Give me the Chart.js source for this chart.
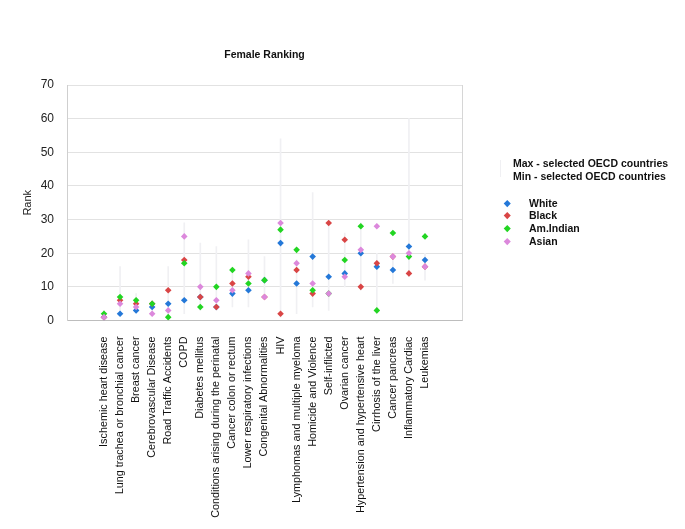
<!DOCTYPE html>
<html>
<head>
<meta charset="utf-8">
<script src="https://cdn.jsdelivr.net/npm/chart.js@4.4.1/dist/chart.umd.min.js"></script>
<style>
  body { margin: 0; background: #fff; font-family: "Liberation Sans", Arial, sans-serif; }
  #wrap { position: relative; width: 685px; height: 529px; }
  #legend { position: absolute; left: 0; top: 0; }
  .lg { position: absolute; font-size: 10.5px; font-weight: bold; color: #111; white-space: nowrap; line-height: 12px; }
  .mk { position: absolute; width: 4.5px; height: 4.5px; transform: rotate(45deg); }
</style>
</head>
<body>
<div id="wrap">
  <canvas id="chart" width="685" height="529"></canvas>
  <div id="legend"></div>
</div>
<script>
// categories along the x axis
const causes = [
  'Ischemic heart disease', 'Lung trachea or bronchial cancer', 'Breast cancer',
  'Cerebrovascular Disease', 'Road Traffic Accidents', 'COPD', 'Diabetes mellitus',
  'Conditions arising during the perinatal', 'Cancer colon or rectum',
  'Lower respiratory infections', 'Congenital Abnormalities', 'HIV',
  'Lymphomas and multiple myeloma', 'Homicide and Violence', 'Self-inflicted',
  'Ovarian cancer', 'Hypertension and hypertensive heart', 'Cirrhosis of the liver',
  'Cancer pancreas', 'Inflammatory Cardiac', 'Leukemias'
];

// rank per group
const white    = [1, 2, 3, 4, 5, 6, 7, 4, 8, 9, 12, 23, 11, 19, 13, 14, 20, 16, 15, 22, 18];
const black    = [1, 6, 5, 5, 9, 18, 7, 4, 11, 13, 7, 2, 15, 8, 29, 24, 10, 17, 19, 14, 16];
const amIndian = [2, 7, 6, 5, 1, 17, 4, 10, 15, 11, 12, 27, 21, 9, 8, 18, 28, 3, 26, 19, 25];
const asian    = [1, 5, 4, 2, 3, 25, 10, 6, 9, 14, 7, 29, 17, 11, 8, 13, 21, 28, 19, 20, 16];

// range over selected OECD countries
const oecdMax = [3, 16, 8, 6, 16, 29, 23, 22, 15, 24, 19, 54, 18, 38, 30, 26, 29, 20, 20, 60, 20];
const oecdMin = [1, 2, 3, 2, 1, 2, 3, 3, 4, 4, 7, 1, 2, 4, 3, 10, 9, 2, 11, 13, 12];

const yTicks = [0, 10, 20, 30, 40, 50, 60, 70];

const groups = [
  { name: 'White', data: white, color: '#2478d8' },
  { name: 'Black', data: black, color: '#d94545' },
  { name: 'Am.Indian', data: amIndian, color: '#22d522' },
  { name: 'Asian', data: asian, color: '#dc88dc' }
];

const FONT = '"Liberation Sans", Arial, sans-serif';

// title + right frame line
const frame = {
  id: 'frame',
  afterDraw(chart) {
    const { ctx, chartArea: a } = chart;
    ctx.save();
    ctx.strokeStyle = '#d6d6d6';
    ctx.lineWidth = 1;
    ctx.beginPath();
    ctx.moveTo(a.right + 0.5, a.top);
    ctx.lineTo(a.right + 0.5, a.bottom);
    ctx.stroke();
    ctx.fillStyle = '#111';
    ctx.font = 'bold 10.5px ' + FONT;
    ctx.textAlign = 'center';
    ctx.textBaseline = 'middle';
    ctx.fillText('Female Ranking', (a.left + a.right) / 2, 55.5);
    ctx.restore();
  }
};

const datasets = groups.map((g, k) => ({
  type: 'scatter',
  label: g.name,
  data: g.data.map((v, i) => ({ x: i, y: v })),
  backgroundColor: g.color,
  borderColor: g.color,
  borderWidth: 0,
  pointStyle: 'rectRot',
  pointRadius: 3.3,
  order: 4 - k
}));

datasets.push({
  type: 'bar',
  label: 'Max / Min - selected OECD countries',
  data: causes.map((c, i) => ({ x: i, y: [oecdMin[i], oecdMax[i]] })),
  backgroundColor: '#f0f0f3',
  barThickness: 1,
  order: 10
});

new Chart(document.getElementById('chart'), {
  type: 'scatter',
  data: { datasets },
  plugins: [frame],
  options: {
    responsive: false,
    animation: false,
    layout: { padding: { top: 85, right: 223, left: 0, bottom: 0 } },
    plugins: { legend: { display: false }, tooltip: { enabled: false } },
    scales: {
      x: {
        type: 'linear',
        min: -1.72,
        max: 21.72,
        afterBuildTicks: (scale) => { scale.ticks = causes.map((c, i) => ({ value: i })); },
        afterFit: (scale) => { scale.height = 208.5; },
        grid: { display: false },
        border: { display: true, color: '#bdbdbd', width: 1 },
        ticks: {
          autoSkip: false,
          minRotation: 90,
          maxRotation: 90,
          padding: 8,
          color: '#111',
          font: { family: FONT, size: 10.8 },
          callback: (v) => causes[v]
        }
      },
      y: {
        min: 0,
        max: 70,
        afterBuildTicks: (scale) => { scale.ticks = yTicks.map(v => ({ value: v })); },
        afterFit: (scale) => { scale.width = 67; },
        grid: { color: '#e2e2e2', drawTicks: false },
        border: { display: true, color: '#cfcfcf' },
        ticks: { padding: 13, color: '#222', font: { family: FONT, size: 12 } },
        title: {
          display: true,
          text: 'Rank',
          color: '#222',
          font: { family: FONT, size: 11 },
          padding: { top: 21, bottom: 0 }
        }
      }
    }
  }
});

// legend
const legend = document.getElementById('legend');
function addText(txt, x, yc) {
  const d = document.createElement('div');
  d.className = 'lg';
  d.textContent = txt;
  d.style.left = x + 'px';
  d.style.top = (yc - 6) + 'px';
  legend.appendChild(d);
}
const rangeBar = document.createElement('div');
rangeBar.style.cssText = 'position:absolute;left:500px;top:160px;width:1px;height:17px;background:#f0f0f3;';
legend.appendChild(rangeBar);
addText('Max - selected OECD countries', 513, 163);
addText('Min - selected OECD countries', 513, 176);
groups.forEach((g, k) => {
  const yc = 202.5 + k * 12.8;
  const m = document.createElement('div');
  m.className = 'mk';
  m.style.background = g.color;
  m.style.left = '505px';
  m.style.top = (yc - 2) + 'px';
  legend.appendChild(m);
  addText(g.name, 529, yc);
});
</script>
</body>
</html>
